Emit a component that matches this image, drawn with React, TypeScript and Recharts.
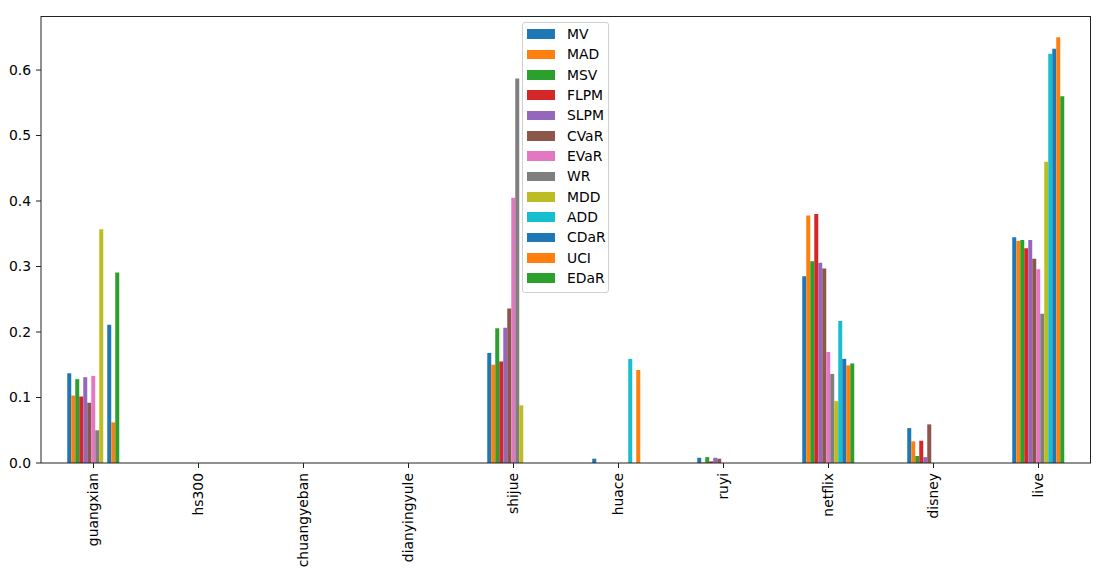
import React from 'react';
import { BarChart, Bar, XAxis, YAxis, Legend } from 'recharts';

const categories = ['guangxian', 'hs300', 'chuangyeban', 'dianyingyule', 'shijue', 'huace', 'ruyi', 'netflix', 'disney', 'live'];

const MV = [0.137, 0, 0, 0, 0.168, 0.0066, 0.008, 0.285, 0.0533, 0.3447];
const MAD = [0.103, 0, 0, 0, 0.15, 0, 0.001, 0.378, 0.033, 0.339];
const MSV = [0.128, 0, 0, 0, 0.2056, 0, 0.009, 0.308, 0.0107, 0.3406];
const FLPM = [0.1015, 0, 0, 0, 0.155, 0, 0.0025, 0.38, 0.034, 0.328];
const SLPM = [0.131, 0, 0, 0, 0.2066, 0, 0.008, 0.3056, 0.009, 0.3406];
const CVaR = [0.092, 0, 0, 0, 0.236, 0, 0.0066, 0.297, 0.059, 0.312];
const EVaR = [0.133, 0, 0, 0, 0.405, 0, 0, 0.1695, 0, 0.296];
const WR = [0.05, 0, 0, 0, 0.587, 0, 0, 0.136, 0, 0.228];
const MDD = [0.357, 0, 0, 0, 0.088, 0, 0, 0.0944, 0, 0.46];
const ADD = [0, 0, 0, 0, 0, 0.159, 0, 0.2168, 0, 0.625];
const CDaR = [0.211, 0, 0, 0, 0, 0, 0, 0.159, 0, 0.6325];
const UCI = [0.062, 0, 0, 0, 0, 0.142, 0, 0.149, 0, 0.65];
const EDaR = [0.291, 0, 0, 0, 0, 0, 0, 0.152, 0, 0.56];

const seriesNames = ['MV', 'MAD', 'MSV', 'FLPM', 'SLPM', 'CVaR', 'EVaR', 'WR', 'MDD', 'ADD', 'CDaR', 'UCI', 'EDaR'];
const seriesValues = [MV, MAD, MSV, FLPM, SLPM, CVaR, EVaR, WR, MDD, ADD, CDaR, UCI, EDaR];
const colors = ['#1f77b4', '#ff7f0e', '#2ca02c', '#d62728', '#9467bd', '#8c564b', '#e377c2', '#7f7f7f', '#bcbd22', '#17becf', '#1f77b4', '#ff7f0e', '#2ca02c'];
const yTicks = [0, 0.1, 0.2, 0.3, 0.4, 0.5, 0.6];

const data = categories.map((name, i) => {
  const row: Record<string, string | number> = { name };
  seriesNames.forEach((s, j) => { row[s] = seriesValues[j][i]; });
  return row;
});

const FONT = '"DejaVu Sans", sans-serif';

function XTick({ x, y, payload }: any) {
  return (
    <text
      transform={`translate(${x},${y}) rotate(-90)`}
      textAnchor="end"
      dy="0.35em"
      fontSize={13.9}
      fontFamily={FONT}
      fill="#000"
    >
      {payload.value}
    </text>
  );
}

function LegendBox() {
  return (
    <div
      style={{
        width: 85,
        height: 268,
        border: '1px solid #d0d0d0',
        borderRadius: 3,
        background: 'rgba(255,255,255,0.8)',
        paddingTop: 1,
        fontFamily: FONT,
        fontSize: 13.9,
      }}
    >
      {seriesNames.map((s, i) => (
        <div key={s} style={{ position: 'relative', height: 20.33 }}>
          <div style={{ position: 'absolute', left: 4, top: 5.3, width: 27.8, height: 9.7, background: colors[i] }} />
          <div style={{ position: 'absolute', left: 44, top: 0, lineHeight: '20.33px', color: '#000' }}>{s}</div>
        </div>
      ))}
    </div>
  );
}

export default function App() {
  return (
    <div style={{ position: 'absolute', left: 0, top: 0, width: 1104, height: 572, background: '#fff' }}>
      <BarChart
        width={1104}
        height={572}
        data={data}
        margin={{ top: 16, right: 13, bottom: 0, left: 0 }}
        barCategoryGap="25%"
        barGap={0}
      >
        <XAxis
          dataKey="name"
          height={109}
          interval={0}
          tick={<XTick />}
          tickSize={5}
          tickMargin={5}
          axisLine={{ stroke: '#222', strokeWidth: 1 }}
          tickLine={{ stroke: '#222' }}
        />
        <YAxis
          width={41}
          domain={[0, 0.6825]}
          ticks={yTicks}
          tickFormatter={(v: number) => v.toFixed(1)}
          tickSize={5}
          tickMargin={5}
          tick={{ fontSize: 13.9, fontFamily: FONT, fill: '#000' }}
          axisLine={{ stroke: '#222', strokeWidth: 1 }}
          tickLine={{ stroke: '#222' }}
          allowDataOverflow
        />
        <Legend
          layout="vertical"
          align="center"
          verticalAlign="middle"
          content={() => <LegendBox />}
          wrapperStyle={{ left: 522, top: 22, width: 87, height: 270 }}
        />
        {seriesNames.map((s, i) => (
          <Bar key={s} dataKey={s} fill={colors[i]} isAnimationActive={false} />
        ))}
      </BarChart>
      {/* top and right spines of the axes frame */}
      <div
        style={{
          position: 'absolute',
          left: 41,
          top: 15.5,
          width: 1050,
          height: 447,
          borderTop: '1px solid #222',
          borderRight: '1px solid #222',
          pointerEvents: 'none',
          boxSizing: 'border-box',
        }}
      />
    </div>
  );
}
